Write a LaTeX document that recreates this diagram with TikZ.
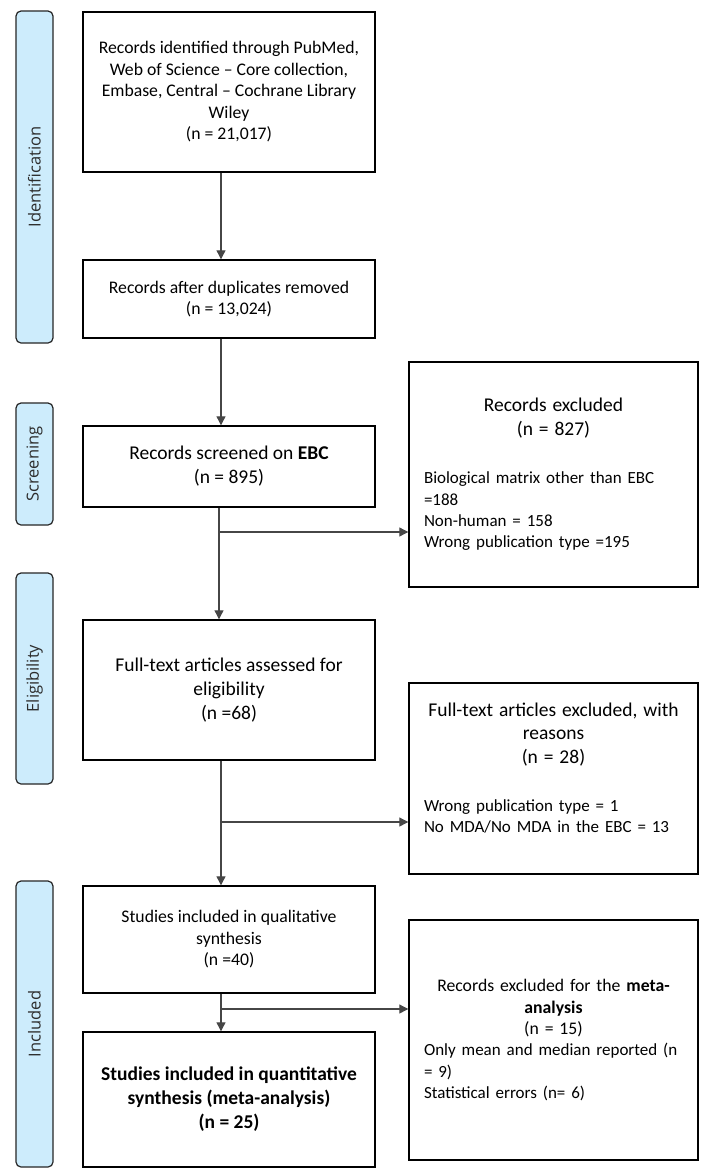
\documentclass[tikz,border=0pt]{standalone}
\usepackage{fontspec}
\setmainfont{Carlito}
\newfontfamily\labfont{Open Sans}
\usetikzlibrary{arrows.meta}
\definecolor{labblue}{RGB}{205,236,252}
\definecolor{labtext}{RGB}{45,45,45}
\definecolor{conn}{RGB}{70,70,70}
\newcommand{\listfont}{\fontsize{17}{21.3}\selectfont}
\tikzset{
  box/.style={draw=black, line width=1.4pt, fill=white, inner sep=0pt, align=center,
    minimum width=292pt, font=\fontsize{17.7}{21.5}\selectfont},
  bigbox/.style={box, font=\fontsize{19.5}{24}\selectfont},
  rbox/.style={draw=black, line width=1.4pt, fill=white, inner ysep=0pt, inner xsep=15pt,
    text width=259pt, align=left, font=\fontsize{17.7}{21.5}\selectfont},
  lab/.style={draw=black!85, line width=1.2pt, fill=labblue, rounded corners=5pt,
    rotate=90, minimum height=37pt, inner sep=0pt, text=labtext,
    font=\labfont\fontsize{16.5}{20}\selectfont},
  arr/.style={draw=conn, line width=1.1pt, -{Triangle[length=9pt,width=9pt]}},
}
\begin{document}
\begin{tikzpicture}[x=1pt,y=-1pt]
\fill[white] (0,0) rectangle (712,1175);
\useasboundingbox (0,0) rectangle (712,1175);

% phase labels
\node[lab, minimum width=332pt] (lid) at (34.5,177) {Identification};
\node[lab, minimum width=122pt] (lsc) at (34.5,464) {Screening};
\node[lab, minimum width=211pt] (lel) at (34.5,678.5) {Eligibility};
\node[lab, minimum width=286pt] (lin) at (34.5,1024) {Included};

% main column
\node[box, minimum height=160pt] (b1) at (229,92)
  {Records identified through PubMed,\\Web of Science -- Core collection,\\Embase, Central -- Cochrane Library\\Wiley\\(n = 21,017)};
\node[box, minimum height=78pt] (b2) at (229,299)
  {Records after duplicates removed\\(n = 13,024)};
\node[bigbox, minimum height=81pt] (b3) at (229,466.5)
  {Records screened on \textbf{EBC}\\(n = 895)};
\node[bigbox, minimum height=140pt] (b4) at (229,690)
  {Full-text articles assessed for\\eligibility\\(n =68)};
\node[box, minimum height=107pt] (b5) at (229,939.5)
  {Studies included in qualitative\\synthesis\\(n =40)};
\node[bigbox, minimum height=135pt, font=\bfseries\fontsize{19.5}{24}\selectfont] (b6) at (229,1099.5)
  {Studies included in quantitative\\synthesis (meta-analysis)\\(n = 25)};

% right column
\node[rbox, minimum height=225pt] (r1) at (553.5,474.5)
  {{\centering\fontsize{19.5}{23.5}\selectfont Records excluded\\(n = 827)\par}\vspace{27pt}%
   {\listfont\mbox{Biological matrix other than EBC}\\=188\\Non-human = 158\\\mbox{Wrong publication type =195}\par}};
\node[rbox, minimum height=191pt] (r2) at (553.5,778.5)
  {{\centering\fontsize{19.5}{23.5}\selectfont Full-text articles excluded, with\\reasons\\(n = 28)\par}\vspace{27pt}%
   {\listfont\mbox{Wrong publication type = 1}\\\mbox{No MDA/No MDA in the EBC = 13}\par}%
   \rule{0pt}{20pt}};
\node[rbox, minimum height=240pt] (r3) at (553.5,1040)
  {{\centering Records excluded for the \textbf{meta-}\\\textbf{analysis}\\(n = 15)\par}%
   {\listfont\mbox{Only mean and median reported (n}\\= 9)\\\mbox{Statistical errors (n= 6)}\par}};

% connectors
\coordinate (sp) at (221,0);
\coordinate (j1) at (219,532);
\coordinate (j2) at (221,822);
\coordinate (j3) at (221,1009);
\draw[arr] (b1.south -| sp) -- (b2.north -| sp);
\draw[arr] (b2.south -| sp) -- (b3.north -| sp);
\draw[arr] (b3.south -| j1) -- (b4.north -| j1);
\draw[arr] (j1) -- (j1 -| r1.west);
\draw[arr] (b4.south -| j2) -- (b5.north -| j2);
\draw[arr] (j2) -- (j2 -| r2.west);
\draw[arr] (b5.south -| j3) -- (b6.north -| j3);
\draw[arr] (j3) -- (j3 -| r3.west);
\end{tikzpicture}
\end{document}
